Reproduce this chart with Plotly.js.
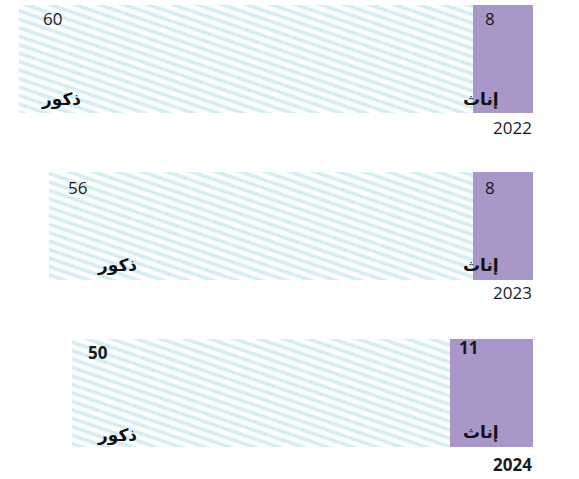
<!DOCTYPE html>
<html>
<head>
<meta charset="utf-8">
<script src="https://cdn.plot.ly/plotly-3.0.1.min.js"></script>
<style>html,body{margin:0;padding:0;background:#fff;}#chart{width:579px;height:479px;}</style>
</head>
<body>
<div id="chart"></div>
<script>
// ---- data ----
const years = ["2022", "2023", "2024"];
const males = [60, 56, 50];
const females = [8, 8, 11];
const maleName = "ذكور";
const femaleName = "إناث";

// ---- styling / placement (px offsets, not data) ----
const boldYear = [false, false, true];
const maleValShift = [22, 17, 14];
const maleValY = [40, 38, 40];
const maleNameShift = [42, 68, 45];
const maleNameY = [-40, -39, -42];
const femValShift = [10, 10, 7];
const femValY = [40, 38, 45];
const femNameY = [-40, -39, -39];
const yearY = [-69, -67, -72];

const FONT = "'Open Sans', 'DejaVu Sans', sans-serif";
const NUM_SIZE = 17;
const NAME_SIZE = 17;
const totals = males.map((m, i) => m + females[i]);

const traces = [
  {
    type: 'bar', orientation: 'h', y: years, x: females, name: femaleName,
    width: 0.647,
    marker: {color: '#a997c9', line: {width: 0}},
    hoverinfo: 'none'
  },
  {
    type: 'bar', orientation: 'h', y: years, x: males, name: maleName,
    width: 0.647,
    marker: {color: '#ffffff', line: {width: 0},
             pattern: {shape: '-', fgcolor: '#d3eef2', bgcolor: '#ffffff', size: 8, solidity: 0.45, fillmode: 'replace'}},
    hoverinfo: 'none'
  }
];

// annotations on a category axis use the category's serial index
const ann = [];
years.forEach((yr, i) => {
  const fw = boldYear[i] ? 'bold' : 'normal';
  ann.push({x: totals[i], y: i, xref: 'x', yref: 'y', text: String(males[i]), showarrow: false,
            xanchor: 'left', yanchor: 'middle', xshift: maleValShift[i], yshift: maleValY[i],
            font: {family: FONT, size: NUM_SIZE, color: '#1a1a1a', weight: fw}});
  ann.push({x: totals[i], y: i, xref: 'x', yref: 'y', text: maleName, showarrow: false,
            xanchor: 'center', yanchor: 'middle', xshift: maleNameShift[i], yshift: maleNameY[i],
            font: {family: FONT, size: NAME_SIZE, color: '#111', weight: 'bold'}});
  ann.push({x: females[i], y: i, xref: 'x', yref: 'y', text: String(females[i]), showarrow: false,
            xanchor: 'left', yanchor: 'middle', xshift: femValShift[i], yshift: femValY[i],
            font: {family: FONT, size: NUM_SIZE, color: '#1a1a1a', weight: fw}});
  ann.push({x: 0, y: i, xref: 'x', yref: 'y', text: femaleName, showarrow: false,
            xanchor: 'right', yanchor: 'middle', xshift: -32, yshift: femNameY[i],
            font: {family: FONT, size: NAME_SIZE, color: '#111', weight: 'bold'}});
  ann.push({x: 0, y: i, xref: 'x', yref: 'y', text: yr, showarrow: false,
            xanchor: 'right', yanchor: 'middle', xshift: 1, yshift: yearY[i],
            font: {family: FONT, size: NUM_SIZE, color: '#1a1a1a', weight: fw}});
});

const hiddenAxis = {showgrid: false, zeroline: false, showline: false, showticklabels: false, ticks: '', fixedrange: true};
const layout = {
  width: 579, height: 479,
  margin: {l: 0, r: 46, t: 0, b: 0, pad: 0},
  paper_bgcolor: '#fff', plot_bgcolor: '#fff',
  barmode: 'stack',
  showlegend: false,
  xaxis: Object.assign({range: [70.5, 0]}, hiddenAxis),
  yaxis: Object.assign({type: 'category', range: [2.515, -0.353]}, hiddenAxis),
  annotations: ann
};

Plotly.newPlot('chart', traces, layout, {staticPlot: true, displayModeBar: false}).then(() => {
  document.querySelectorAll('#chart pattern').forEach(p => {
    p.setAttribute('patternTransform', 'rotate(19)');
  });
});
</script>
</body>
</html>
